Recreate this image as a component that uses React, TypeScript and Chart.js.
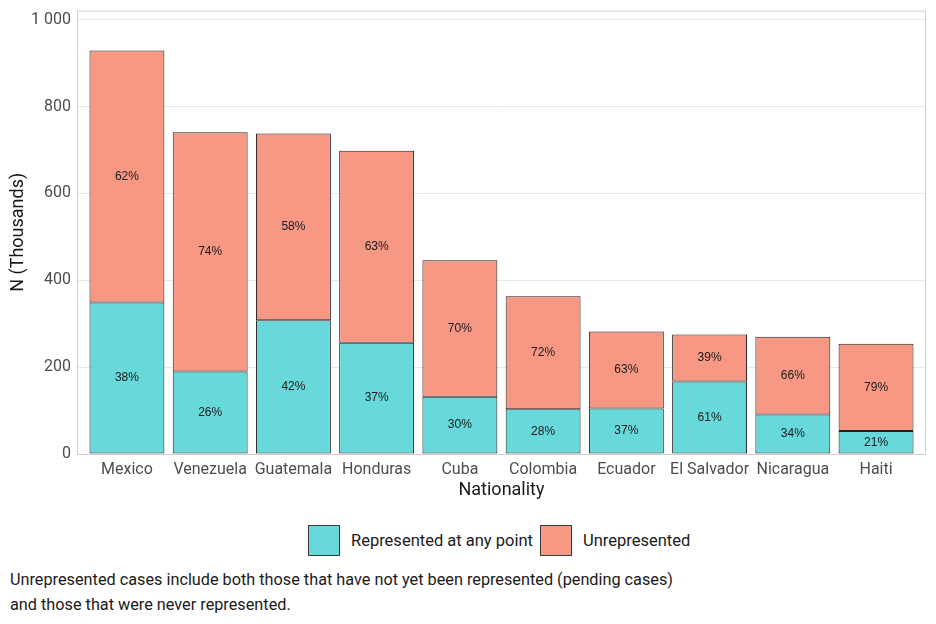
import React, { useEffect, useRef } from "react"
import { Chart, registerables } from "chart.js"

Chart.register(...registerables)

const categories = ["Mexico", "Venezuela", "Guatemala", "Honduras", "Cuba", "Colombia", "Ecuador", "El Salvador", "Nicaragua", "Haiti"]
const represented = [349, 190, 308, 256, 132, 103, 105, 167, 91, 53]
const unrepresented = [580, 551, 430, 442, 314, 260, 177, 108, 179, 201]
const yTicks = [0, 200, 400, 600, 800, 1000]
const seriesNames = ["Represented at any point", "Unrepresented"]
const seriesColors = ["rgb(104, 217, 218)", "rgb(246, 152, 131)"]

const FONT = "Roboto, 'Liberation Sans', sans-serif"

const fmt = (v: number) => String(v).replace(/\B(?=(\d{3})+(?!\d))/g, " ")

const panelBorder = {
  id: "panelBorder",
  afterDatasetsDraw(chart: any) {
    const { ctx, chartArea } = chart
    ctx.save()
    ctx.strokeStyle = "#cfcfcf"
    ctx.lineWidth = 1
    ctx.strokeRect(chartArea.left + 0.5, chartArea.top + 0.5, chartArea.right - chartArea.left - 1, chartArea.bottom - chartArea.top)
    ctx.restore()
  },
}

const pctLabels = {
  id: "pctLabels",
  afterDatasetsDraw(chart: any) {
    const { ctx } = chart
    ctx.save()
    ctx.font = "12px 'Liberation Sans', Arial, sans-serif"
    ctx.fillStyle = "#1a1a1a"
    ctx.textAlign = "center"
    ctx.textBaseline = "middle"
    chart.data.datasets.forEach((ds: any, di: number) => {
      const meta = chart.getDatasetMeta(di)
      meta.data.forEach((bar: any, i: number) => {
        const total = represented[i] + unrepresented[i]
        const v = ds.data[i].y
        const pct = Math.round((v / total) * 100)
        ctx.fillText(pct + "%", bar.x, (bar.y + bar.base) / 2)
      })
    })
    ctx.restore()
  },
}

function BarChart() {
  const ref = useRef<HTMLCanvasElement>(null)

  useEffect(() => {
    let chart: Chart | null = null
    if (ref.current) {
      chart = new Chart(ref.current, {
        type: "bar",
        data: {
          datasets: [represented, unrepresented].map((vals, k) => ({
            label: seriesNames[k],
            data: vals.map((v, i) => ({ x: i, y: v })),
            backgroundColor: seriesColors[k],
            borderColor: "#1f1f1f",
            borderWidth: 1,
            borderSkipped: false,
            barPercentage: 0.9,
            categoryPercentage: 1,
          })),
        },
        options: {
          animation: false,
          responsive: false,
          layout: { padding: { top: 3, right: 2, left: 0, bottom: 0 } },
          plugins: { legend: { display: false }, tooltip: { enabled: false } },
          scales: {
            x: {
              type: "linear",
              stacked: true,
              offset: false,
              min: -0.6,
              max: 9.6,
              afterBuildTicks: (scale: any) => {
                scale.ticks = categories.map((_, i) => ({ value: i }))
              },
              afterFit: (scale: any) => {
                scale.height = 54
              },
              grid: { display: false, drawTicks: false },
              border: { display: false },
              ticks: {
                autoSkip: false,
                maxRotation: 0,
                padding: 6,
                color: "#4d4d4d",
                font: { family: FONT, size: 16 },
                callback: (v: any) => categories[v],
              },
              title: {
                display: true,
                text: "Nationality",
                color: "#1a1a1a",
                font: { family: FONT, size: 18 },
                padding: { top: 0, bottom: 7 },
              },
            },
            y: {
              stacked: true,
              min: 0,
              max: 1021,
              afterBuildTicks: (scale: any) => {
                scale.ticks = yTicks.map((v) => ({ value: v }))
              },
              afterFit: (scale: any) => {
                scale.width = 69
              },
              grid: { color: "#e8e8e8", drawTicks: false },
              border: { display: false },
              ticks: {
                padding: 6,
                color: "#4d4d4d",
                font: { family: FONT, size: 16 },
                callback: (v: any) => fmt(v),
              },
              title: {
                display: true,
                text: "N (Thousands)",
                color: "#1a1a1a",
                font: { family: FONT, size: 18 },
                padding: { top: 0, bottom: 0 },
              },
            },
          },
        },
        plugins: [panelBorder, pctLabels],
      } as any)
    }
    return () => {
      chart?.destroy()
    }
  }, [])

  return (
    <div style={{ height: 500 }}>
      <canvas ref={ref} width={920} height={513} style={{ display: "block", position: "relative", top: -13 }} />
    </div>
  )
}

export default function App() {
  return (
    <div style={{ width: 920, fontFamily: FONT }}>
      <BarChart />
      <div style={{ display: "flex", alignItems: "center", marginTop: 17, marginLeft: 300, height: 31 }}>
        {seriesNames.map((name, k) => (
          <React.Fragment key={name}>
            <div style={{ width: 30, height: 29, background: seriesColors[k], border: "1px solid #3a3a3a" }} />
            <span style={{ fontSize: 16.5, color: "#1a1a1a", marginLeft: 11, marginRight: 7 }}>{name}</span>
          </React.Fragment>
        ))}
      </div>
      <div style={{ marginTop: 11, paddingLeft: 2, fontSize: 16.25, lineHeight: "25px", color: "#1a1a1a" }}>
        Unrepresented cases include both those that have not yet been represented (pending cases)
        <br />
        and those that were never represented.
      </div>
    </div>
  )
}
